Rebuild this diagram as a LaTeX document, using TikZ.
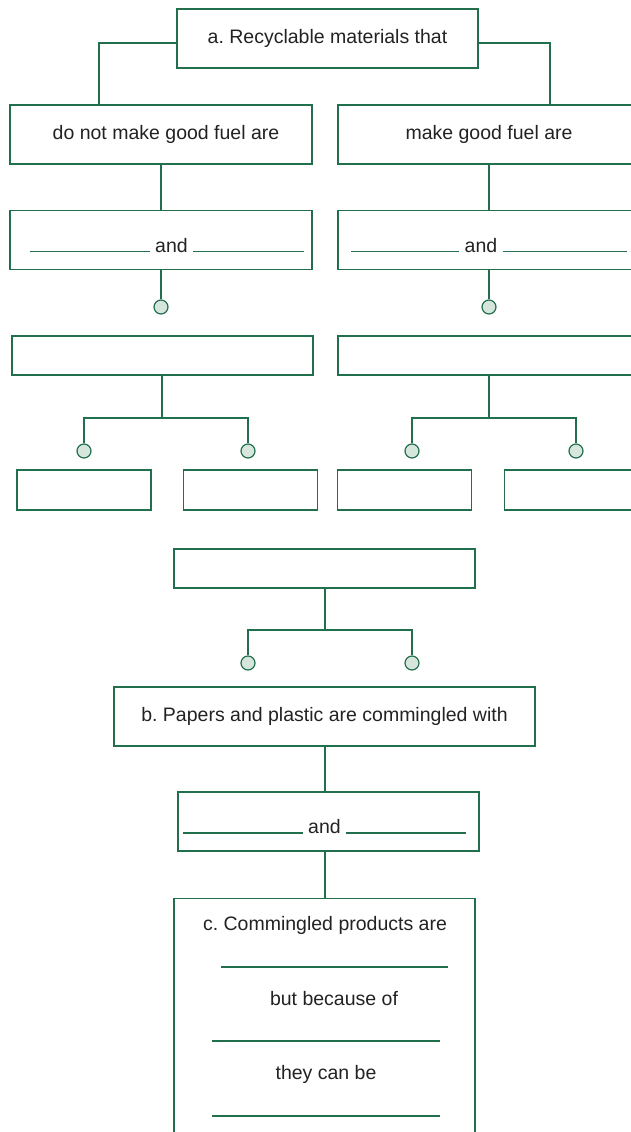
\documentclass[tikz,border=0pt]{standalone}
\usepackage{fontspec}
\setmainfont{Liberation Sans}
\frenchspacing
\definecolor{frame}{HTML}{226F4E}
\definecolor{dotfill}{HTML}{D6E6DD}
\definecolor{ink}{HTML}{222222}
% answer line to write on
\newcommand{\blank}[1]{\textcolor{frame}{\rule{#1pt}{1.2pt}}}

\begin{document}
\begin{tikzpicture}[
    x=1pt, y=-1pt, % one unit = one point, y grows downwards
    font=\fontsize{19.5}{23}\selectfont,
    box/.style={draw=frame, line width=1.2pt, text=ink, inner sep=0pt,
        minimum width=302pt, minimum height=59pt}, % framed box
    fillin/.style={box, text height=24pt, text depth=0pt}, % box with blanks
    small/.style={box, minimum width=134pt, minimum height=40pt},
    dot/.style={circle, draw=frame, fill=dotfill, line width=1.2pt,
        inner sep=0pt, minimum size=14pt}, % knob
    link/.style={draw=frame, line width=1.2pt} % connecting line
]
    \useasboundingbox (0,0) rectangle (631,1132);
    \clip (0,0) rectangle (631,1132);

    % --- a. top level ---
    \node[box, minimum width=301pt] (a) at (327.5,38.5) {a. Recyclable materials that};
    \node[box] (nogood) at (161,134.5) {\hspace*{10pt}do not make good fuel are};
    \node[box] (good) at (489,134.5) {make good fuel are};
    \draw[link] ([yshift=-4.5pt]a.west) -| ([xshift=-62pt]nogood.north);
    \draw[link] ([yshift=-4.5pt]a.east) -| ([xshift=61pt]good.north);

    % --- fill-in boxes ---
    \node[fillin] (andL) at (161,240) {\hspace*{12pt}\blank{120} and \blank{111}};
    \node[fillin] (andR) at (489,240) {\blank{108} and \blank{124}};
    \draw[link] (nogood) -- (andL);
    \draw[link] (good) -- (andR);

    \node[dot] (dL) at (161,307) {};
    \node[dot] (dR) at (489,307) {};
    \draw[link] (andL) -- (dL);
    \draw[link] (andR) -- (dR);

    % --- empty boxes and their branches ---
    \node[box, minimum width=301pt, minimum height=39pt] (sortL) at (162.5,355.5) {};
    \node[box, minimum height=39pt] (sortR) at (489,355.5) {};
    \coordinate (jL) at (162,418);
    \coordinate (jR) at (489,418);

    \node[dot] (dL1) at (84,451) {};
    \node[dot] (dL2) at (248,451) {};
    \node[dot] (dR1) at (412,451) {};
    \node[dot] (dR2) at (576,451) {};
    \draw[link] (sortL.south -| jL) -- (jL);
    \draw[link] (dL1) |- (jL) -| (dL2);
    \draw[link] (sortR) -- (jR);
    \draw[link] (dR1) |- (jR) -| (dR2);

    \node[small] (bL1) at (84,490) {};
    \node[small] (bL2) at (250.5,490) {};
    \node[small] (bR1) at (404.5,490) {};
    \node[small] (bR2) at (571.5,490) {};

    % --- b. middle part ---
    \node[box, minimum width=301pt, minimum height=39pt] (mid) at (324.5,568.5) {};
    \coordinate (jM) at (325,630);
    \node[dot] (dM1) at (248,663) {};
    \node[dot] (dM2) at (412,663) {};
    \draw[link] (mid.south -| jM) -- (jM);
    \draw[link] (dM1) |- (jM) -| (dM2);

    \node[box, minimum width=421pt] (b) at (324.5,716.5) {b. Papers and plastic are commingled with};
    \node[fillin, minimum width=301pt] (andM) at (328.5,821.5) {\blank{120} and \blank{120}\hspace*{8pt}};
    \draw[link] (b.south -| jM) -- (andM.north -| jM);

    % --- c. bottom box, runs off the page ---
    \node[box, minimum width=301pt, minimum height=260pt, anchor=north] (c) at (324.5,898) {};
    \draw[link] (andM.south -| jM) -- (c.north -| jM);

    \node[text=ink, anchor=base] (c1) at (325,930) {c. Commingled products are};
    \node[inner sep=0pt] (r1) at (334.5,967) {\blank{227}};
    \node[text=ink, anchor=base] (c2) at (334,1005) {but because of};
    \node[inner sep=0pt] (r2) at (326,1041) {\blank{228}};
    \node[text=ink, anchor=base] (c3) at (326,1079) {they can be};
    \node[inner sep=0pt] (r3) at (326,1116) {\blank{228}};

\end{tikzpicture}
\end{document}
